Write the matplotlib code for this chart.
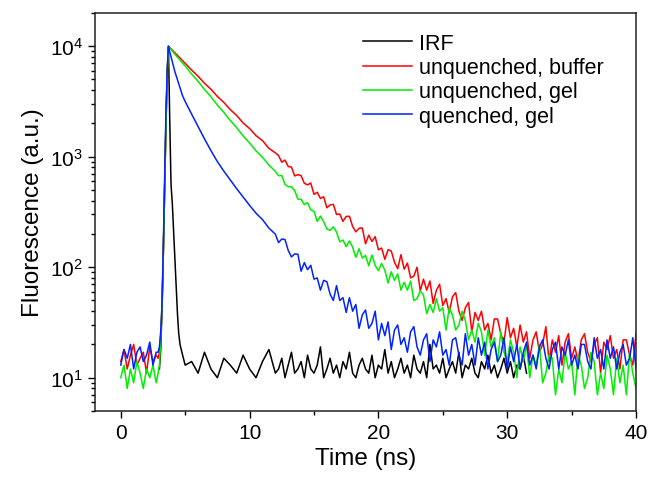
import numpy as np
import matplotlib
matplotlib.use('Agg')
import matplotlib.pyplot as plt
from matplotlib.ticker import LogLocator, MultipleLocator, NullFormatter

plt.rcParams['font.family'] = ['Liberation Sans', 'DejaVu Sans']
plt.rcParams['mathtext.fontset'] = 'custom'
plt.rcParams['mathtext.rm'] = 'Liberation Sans'
plt.rcParams['mathtext.it'] = 'Liberation Sans:italic'
plt.rcParams['mathtext.bf'] = 'Liberation Sans:bold'

nan = np.nan

# time channels (ns)
t_ns = [
    0.0, 0.25, 0.5, 0.75, 1.0, 1.25, 1.5, 1.75, 2.0, 2.25, 2.5, 2.75,
    2.9, 3.0, 3.1, 3.2, 3.3, 3.4, 3.5, 3.6, 3.7, 3.8, 3.9, 4.0, 4.1, 4.2, 4.3, 4.4, 4.5, 4.6, 4.8, 5.0,
    5.5, 6.0, 6.5, 7.0, 7.5, 8.0, 8.5, 9.0, 9.5, 10.0, 10.5, 11.0, 11.5, 12.0,
    12.25, 12.5, 12.75, 13.0, 13.25, 13.5, 13.75, 14.0, 14.25, 14.5, 14.75, 15.0, 15.25, 15.5, 15.75, 16.0,
    16.25, 16.5, 16.75, 17.0, 17.25, 17.5, 17.75, 18.0, 18.25, 18.5, 18.75, 19.0, 19.25, 19.5, 19.75, 20.0,
    20.25, 20.5, 20.75, 21.0, 21.25, 21.5, 21.75, 22.0, 22.25, 22.5, 22.75, 23.0, 23.25, 23.5, 23.75, 24.0,
    24.25, 24.5, 24.75, 25.0, 25.25, 25.5, 25.75, 26.0, 26.25, 26.5, 26.75, 27.0, 27.25, 27.5, 27.75, 28.0,
    28.25, 28.5, 28.75, 29.0, 29.25, 29.5, 29.75, 30.0, 30.25, 30.5, 30.75, 31.0, 31.25, 31.5, 31.75, 32.0,
    32.25, 32.5, 32.75, 33.0, 33.25, 33.5, 33.75, 34.0, 34.25, 34.5, 34.75, 35.0, 35.25, 35.5, 35.75, 36.0,
    36.25, 36.5, 36.75, 37.0, 37.25, 37.5, 37.75, 38.0, 38.25, 38.5, 38.75, 39.0, 39.25, 39.5, 39.75, 40.0,
]

# counts
irf = [
    nan, nan, nan, nan, nan, nan, nan, nan, nan, nan, nan, nan,
    nan, 12, 18, 40, 130, 500, 1900, 5500, 10000, 2200, 560, 380, 215, 120, 68, 38, 25, 20, 16, 13,
    14, 11, 17, 12, 10, 15, 13, 11, 16, 12, 10, 14, 18, 11,
    12, 15, 10, 13, 17, 11, 12, 14, 10, 16, 12, 11, 13, 19, 10, 12,
    15, 11, 13, 10, 14, 12, 17, 11, 10, 13, 15, 12, 11, 16, 10, 13,
    12, 18, 11, 14, 10, 12, 15, 11, 13, 10, 16, 12, 11, 14, 10, 20,
    12, 13, 11, 15, 10, 12, 14, 11, 17, 10, 13, 12, 15, 11, 10, 14,
    12, 16, 11, 13, 10, 12, 15, 11, 14, 10, 13, 12, 16, 11, nan, nan,
    nan, nan, nan, nan, nan, nan, nan, nan, nan, nan, nan, nan, nan, nan, nan, nan,
    nan, nan, nan, nan, nan, nan, nan, nan, nan, nan, nan, nan, nan, nan, nan, nan,
]

unq_buffer = [
    14, 18, 12, 16, 20, 13, 15, 17, 11, 19, 14, 16,
    15, 17, 24, 45, 130, 480, 1750, 5200, 10000, 9770, 9460, 9200, 8960, 8710, 8490, 8260, 8040, 7820, 7400, 7000,
    6080, 5350, 4620, 4080, 3510, 3100, 2670, 2360, 2020, 1800, 1550, 1400, 1190, 1085,
    1025, 892, 933, 815, 806, 670, 688, 674, 575, 556, 578, 456, 477, 419, 434, 345,
    366, 371, 300, 303, 260, 288, 289, 234, 209, 225, 227, 163, 195, 171, 189, 144,
    149, 118, 144, 140, 111, 97, 130, 96, 109, 80, 83, 100, 61, 78, 62, 75,
    47, 62, 70, 45, 52, 39, 54, 59, 40, 33, 43, 48, 26, 39, 33, 40,
    27, 31, 22, 34, 34, 25, 21, 35, 23, 28, 19, 30, 21, 26, 15, 22,
    26, 17, 20, 29, 14, 22, 17, 24, 13, 21, 25, 15, 19, 14, 22, 25,
    17, 14, 20, 23, 11, 21, 18, 24, 15, 18, 12, 22, 22, 16, 13, 25,
]

unq_gel = [
    10, 13, 8, 12, 9, 14, 11, 8, 12, 10, 13, 9,
    11, 13, 22, 42, 125, 470, 1700, 5100, 10000, 9660, 9330, 9040, 8750, 8470, 8200, 7940, 7740, 7500, 7030, 6610,
    5600, 4810, 4060, 3490, 2930, 2520, 2130, 1830, 1540, 1330, 1130, 990, 840, 738,
    673, 676, 561, 535, 534, 494, 413, 413, 369, 384, 330, 321, 260, 290, 259, 222,
    215, 232, 208, 170, 176, 154, 173, 152, 123, 147, 121, 128, 103, 129, 104, 93,
    108, 94, 72, 91, 76, 87, 62, 73, 62, 75, 50, 52, 61, 56, 38, 46,
    39, 52, 40, 43, 27, 43, 37, 27, 30, 40, 33, 22, 27, 21, 31, 26,
    16, 27, 19, 23, 14, 26, 17, 14, 22, 17, 10, 19, 14, 20, 10, 16,
    13, 20, 9, 11, 16, 15, 7, 12, 9, 17, 12, 14, 7, 16, 13, 8,
    10, 17, 14, 7, 11, 8, 16, 12, 7, 15, 9, 13, 7, 17, 11, 8,
]

q_gel = [
    13, 18, 15, 20, 12, 17, 19, 14, 16, 21, 13, 17,
    17, 19, 26, 45, 150, 600, 2300, 6000, 10000, 8900, 8040, 7240, 6610, 5890, 5410, 4970, 4570, 4200, 3550, 3160,
    2430, 1880, 1450, 1135, 902, 741, 617, 513, 432, 363, 308, 270, 226, 199,
    167, 180, 178, 142, 124, 132, 131, 92, 110, 95, 104, 78, 80, 62, 76, 74,
    57, 50, 68, 50, 53, 39, 53, 40, 46, 28, 37, 41, 28, 31, 40, 22,
    31, 24, 32, 18, 27, 30, 20, 23, 17, 26, 29, 19, 16, 22, 25, 14,
    22, 19, 26, 16, 18, 13, 22, 23, 16, 13, 25, 16, 20, 13, 23, 16,
    21, 12, 18, 21, 14, 16, 23, 12, 19, 14, 20, 12, 17, 21, 13, 16,
    12, 19, 22, 15, 12, 18, 21, 12, 19, 16, 22, 13, 16, 12, 20, 20,
    14, 12, 23, 15, 18, 12, 22, 15, 19, 12, 17, 20, 13, 15, 23, 12,
]

series = [
    ('IRF', irf, 'black'),
    ('unquenched, buffer', unq_buffer, '#ff0000'),
    ('unquenched, gel', unq_gel, '#00ee00'),
    ('quenched, gel', q_gel, '#0022ff'),
]

fig = plt.figure(figsize=(6.49, 4.81), dpi=100)
ax = fig.add_axes([0.1464, 0.1435, 0.8336, 0.8275])

for label, vals, col in series:
    ax.plot(t_ns, vals, color=col, lw=1.1, label=label)

ax.set_yscale('log')
ax.set_xlim(-2, 40)
ax.set_ylim(5, 2e4)
ax.set_xticks([0, 10, 20, 30, 40])
ax.xaxis.set_minor_locator(MultipleLocator(5))
ax.yaxis.set_major_locator(LogLocator(base=10, numticks=10))
ax.yaxis.set_minor_locator(LogLocator(base=10, subs=np.arange(2, 10), numticks=20))
ax.yaxis.set_minor_formatter(NullFormatter())

ax.tick_params(which='both', direction='out', top=False, right=False, labelsize=15, width=1)
ax.tick_params(which='major', length=5)
ax.tick_params(which='minor', length=3)
for sp in ax.spines.values():
    sp.set_linewidth(1.1)
    sp.set_color('#222222')

ax.set_xlabel('Time (ns)', fontsize=17.5)
ax.set_ylabel('Fluorescence (a.u.)', fontsize=17.5)

ax.legend(frameon=False, loc='upper left', bbox_to_anchor=(0.495, 0.95),
          fontsize=15.5, handlelength=2.3, handletextpad=0.3, labelspacing=0.15,
          borderaxespad=0, borderpad=0)

fig.savefig('out.png', dpi=100)
